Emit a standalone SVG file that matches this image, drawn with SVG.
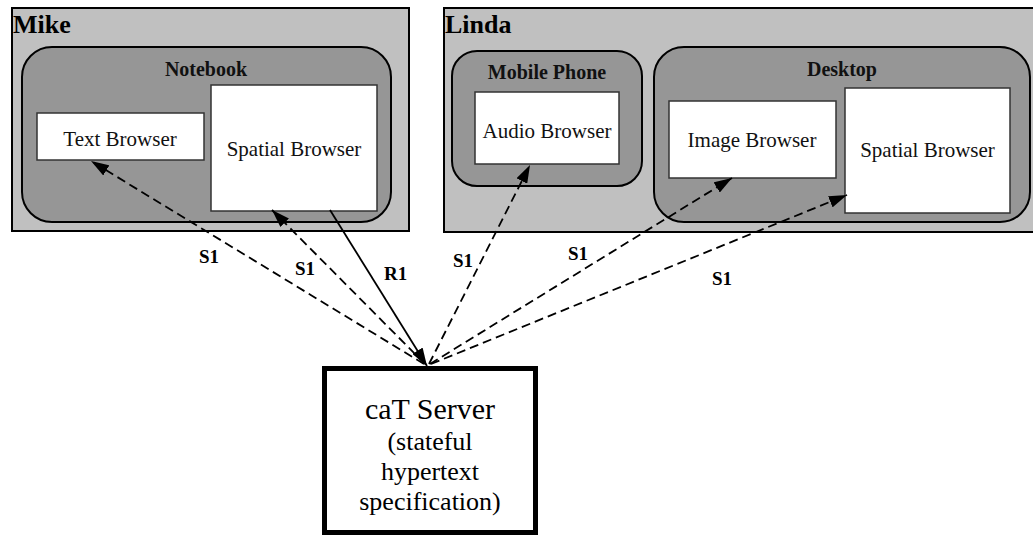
<svg xmlns="http://www.w3.org/2000/svg" width="1033" height="535" viewBox="0 0 1033 535">
<style>
text{font-family:'Liberation Serif','Times New Roman','DejaVu Serif',serif}
.user{fill:#c0c0c0;stroke:#000;stroke-width:2}
.dev{fill:#969696;stroke:#000;stroke-width:2}
.br{fill:#fff;stroke:#333;stroke-width:1.5}
.ut{font-weight:bold;font-size:26px;fill:#000}
.dt{font-weight:bold;font-size:20px;fill:#111;text-anchor:middle}
.bt{font-size:21px;fill:#111;text-anchor:middle}
.lbl{font-weight:bold;font-size:19px;fill:#000}
.st{fill:#000;text-anchor:middle}
.dash{fill:none;stroke:#000;stroke-width:1.8;stroke-dasharray:9 5}
.solid{fill:none;stroke:#000;stroke-width:1.8}
</style>
<defs>
<marker id="ah" markerUnits="userSpaceOnUse" markerWidth="18" markerHeight="12" refX="18" refY="6" orient="auto">
<path d="M0,0 L18,6 L0,12 z" fill="#000"/>
</marker>
</defs>
<g id="mike">
<rect class="user" x="12" y="8" width="397" height="223"/>
<text class="ut" x="13" y="33">Mike</text>
</g>
<g id="notebook">
<rect class="dev" x="22" y="47" width="369" height="175" rx="30" ry="30"/>
<text class="dt" x="206" y="76">Notebook</text>
</g>
<g id="text-browser">
<rect class="br" x="37" y="113" width="167" height="47"/>
<text class="bt" x="120" y="146">Text Browser</text>
</g>
<g id="spatial-browser-mike">
<rect class="br" x="211" y="85" width="166" height="126"/>
<text class="bt" x="294" y="156">Spatial Browser</text>
</g>
<g id="linda">
<rect class="user" x="444" y="8" width="600" height="224"/>
<text class="ut" x="445" y="33">Linda</text>
</g>
<g id="mobile-phone">
<rect class="dev" x="452" y="51" width="190" height="135" rx="25" ry="25"/>
<text class="dt" x="547" y="79">Mobile Phone</text>
</g>
<g id="audio-browser">
<rect class="br" x="475" y="92" width="144" height="72"/>
<text class="bt" x="547" y="138">Audio Browser</text>
</g>
<g id="desktop">
<rect class="dev" x="654" y="47" width="376" height="175" rx="30" ry="30"/>
<text class="dt" x="842" y="76">Desktop</text>
</g>
<g id="image-browser">
<rect class="br" x="669" y="101" width="167" height="77"/>
<text class="bt" x="752" y="147">Image Browser</text>
</g>
<g id="spatial-browser-linda">
<rect class="br" x="845" y="88" width="165" height="125"/>
<text class="bt" x="927.5" y="157">Spatial Browser</text>
</g>
<g id="cat-server">
<rect x="324.5" y="368.5" width="211" height="164" fill="#fff" stroke="#000" stroke-width="5"/>
<text class="st" x="430" y="419" font-size="30">caT Server</text>
<text class="st" x="430" y="450" font-size="26">(stateful</text>
<text class="st" x="430" y="480" font-size="26">hypertext</text>
<text class="st" x="430" y="510" font-size="26">specification)</text>
</g>
<g id="connectors">
<line class="dash" x1="424" y1="364" x2="91" y2="161" marker-end="url(#ah)"/>
<line class="dash" x1="425" y1="364" x2="272" y2="210" marker-end="url(#ah)"/>
<line class="solid" x1="330" y1="210" x2="427" y2="366" marker-end="url(#ah)"/>
<line class="dash" x1="429" y1="364" x2="530" y2="165" marker-end="url(#ah)"/>
<line class="dash" x1="430" y1="364" x2="732" y2="178" marker-end="url(#ah)"/>
<line class="dash" x1="431" y1="364" x2="847" y2="195" marker-end="url(#ah)"/>
<text class="lbl" x="199" y="263">S1</text>
<text class="lbl" x="295" y="275">S1</text>
<text class="lbl" x="384" y="280">R1</text>
<text class="lbl" x="453" y="267">S1</text>
<text class="lbl" x="568" y="260">S1</text>
<text class="lbl" x="712" y="285">S1</text>
</g>
</svg>
